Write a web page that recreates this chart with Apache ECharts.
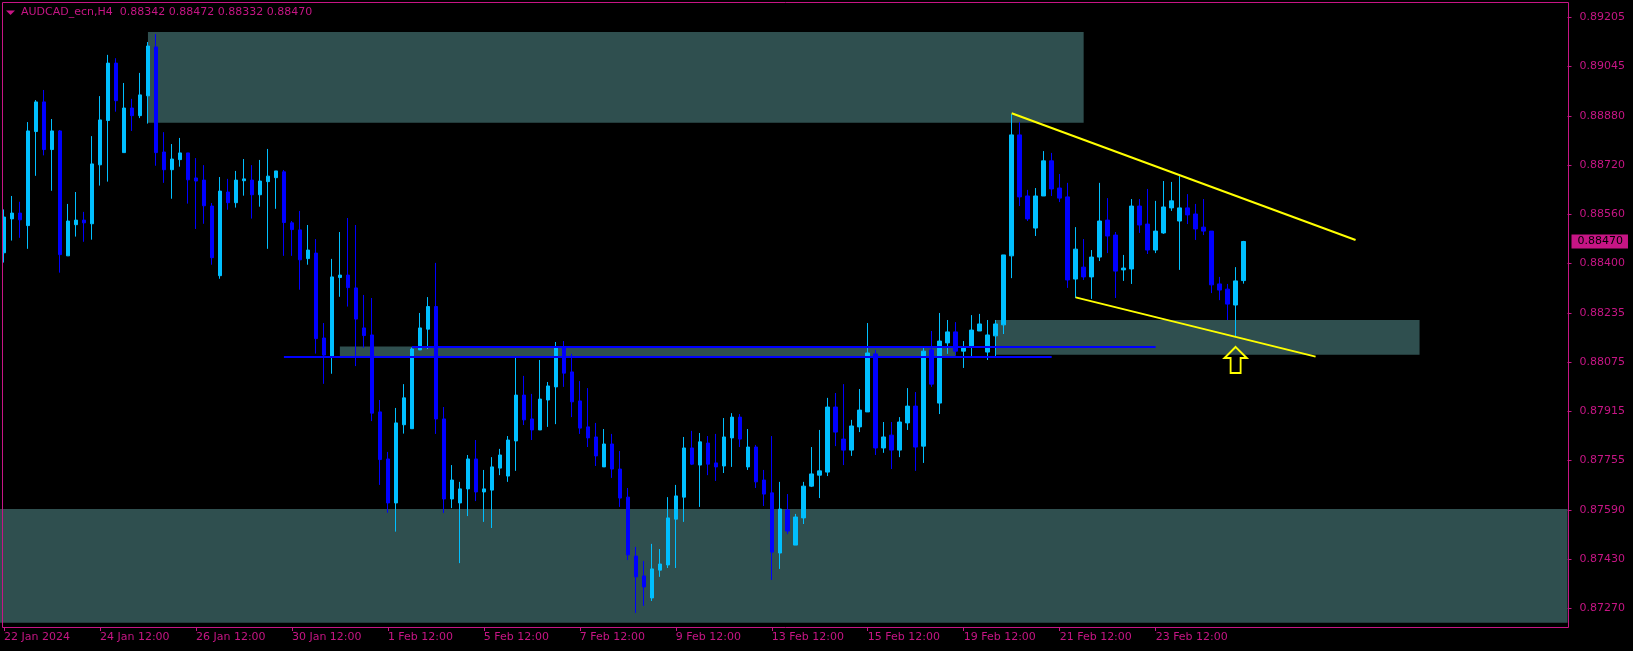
<!DOCTYPE html>
<html><head><meta charset="utf-8">
<script src="https://cdn.jsdelivr.net/npm/echarts@6/dist/echarts.min.js"></script>
<style>html,body{margin:0;padding:0;background:#000;}#c{width:1633px;height:651px;}</style>
</head><body><div id="c"></div>
<script>
const symbolName = 'AUDCAD_ecn,H4';
const tickLabels = ['22 Jan 2024','24 Jan 12:00','26 Jan 12:00','30 Jan 12:00','1 Feb 12:00','5 Feb 12:00','7 Feb 12:00','9 Feb 12:00','13 Feb 12:00','15 Feb 12:00','19 Feb 12:00','21 Feb 12:00','23 Feb 12:00'];
const priceTicks = [0.89205,0.89045,0.88880,0.88720,0.88560,0.88400,0.88235,0.88075,0.87915,0.87755,0.87590,0.87430,0.87270];

const opens = [0.88433,0.88544,0.88563,0.88522,0.88830,0.88927,0.88771,0.88832,0.88423,0.88525,
0.88540,0.88528,0.88721,0.88866,0.89054,0.88761,0.88907,0.88882,0.88947,0.89107,
0.88763,0.88705,0.88738,0.88760,0.88678,0.88671,0.88586,0.88358,0.88632,0.88597,
0.88669,0.88671,0.88623,0.88666,0.88679,0.88698,0.88531,0.88508,0.88414,0.88432,
0.88154,0.88095,0.88352,0.88360,0.88318,0.88187,0.88164,0.87912,0.87758,0.87614,
0.87870,0.87857,0.88115,0.88183,0.88257,0.87889,0.87627,0.87614,0.87660,0.87758,
0.87650,0.87656,0.87728,0.87702,0.87817,0.87967,0.87889,0.87853,0.87951,0.87994,
0.88122,0.88043,0.87948,0.87863,0.87830,0.87732,0.87807,0.87725,0.87633,0.87440,
0.87375,0.87303,0.87394,0.87411,0.87561,0.87633,0.87794,0.87738,0.87810,0.87745,
0.87735,0.87827,0.87895,0.87732,0.87797,0.87689,0.87647,0.87450,0.87591,0.87476,
0.87565,0.87669,0.87705,0.87715,0.87928,0.87823,0.87787,0.87863,0.87912,0.88102,
0.87794,0.87836,0.87787,0.87876,0.87931,0.87800,0.88115,0.87941,0.88138,0.88174,
0.88111,0.88128,0.88177,0.88108,0.88161,0.88197,0.88423,0.88819,0.88619,0.88514,
0.88619,0.88734,0.88645,0.88616,0.88347,0.88386,0.88354,0.88419,0.88540,0.88491,
0.88377,0.88380,0.88586,0.88527,0.88442,0.88498,0.88580,0.88537,0.88580,0.88560,
0.88517,0.88504,0.88331,0.88314,0.88262,0.88342];
const closes = [0.88550,0.88563,0.88541,0.88832,0.88927,0.88771,0.88832,0.88427,0.88537,0.88540,
0.88531,0.88724,0.88868,0.89054,0.88931,0.88907,0.88882,0.88950,0.89110,0.88761,
0.88705,0.88740,0.88760,0.88672,0.88668,0.88587,0.88417,0.88635,0.88597,0.88671,
0.88675,0.88623,0.88668,0.88684,0.88701,0.88532,0.88509,0.88410,0.88442,0.88152,
0.88098,0.88354,0.88360,0.88319,0.88216,0.88162,0.87908,0.87756,0.87614,0.87876,
0.87958,0.88118,0.88187,0.88257,0.87889,0.87627,0.87689,0.87660,0.87758,0.87650,
0.87660,0.87732,0.87771,0.87820,0.87967,0.87886,0.87853,0.87954,0.87997,0.88122,
0.88039,0.87945,0.87859,0.87827,0.87768,0.87807,0.87725,0.87630,0.87444,0.87372,
0.87339,0.87398,0.87414,0.87565,0.87637,0.87794,0.87741,0.87814,0.87741,0.87732,
0.87830,0.87895,0.87823,0.87797,0.87683,0.87643,0.87453,0.87594,0.87522,0.87568,
0.87669,0.87709,0.87719,0.87928,0.87846,0.87787,0.87866,0.87918,0.88105,0.87794,
0.87830,0.87787,0.87879,0.87931,0.87797,0.88111,0.88003,0.88144,0.88174,0.88111,
0.88121,0.88180,0.88200,0.88164,0.88200,0.88426,0.88819,0.88616,0.88544,0.88619,
0.88734,0.88642,0.88612,0.88344,0.88445,0.88354,0.88419,0.88537,0.88488,0.88373,
0.88383,0.88586,0.88524,0.88442,0.88504,0.88583,0.88603,0.88580,0.88557,0.88511,
0.88504,0.88328,0.88311,0.88265,0.88341,0.88470];
const lows = [0.88401,0.88473,0.88482,0.88446,0.88685,0.88752,0.88636,0.88368,0.88423,0.88486,
0.88469,0.88476,0.88653,0.88666,0.88895,0.88761,0.88832,0.88874,0.88856,0.88718,
0.88662,0.88610,0.88715,0.88594,0.88511,0.88528,0.88394,0.88348,0.88574,0.88581,
0.88620,0.88545,0.88584,0.88446,0.88577,0.88423,0.88423,0.88312,0.88394,0.88103,
0.88004,0.88037,0.88289,0.88257,0.88062,0.88122,0.87882,0.87673,0.87582,0.87520,
0.87841,0.87857,0.88115,0.88118,0.87840,0.87581,0.87597,0.87417,0.87571,0.87620,
0.87552,0.87532,0.87705,0.87683,0.87719,0.87869,0.87820,0.87853,0.87863,0.87872,
0.87994,0.87895,0.87840,0.87797,0.87735,0.87732,0.87696,0.87601,0.87427,0.87254,
0.87277,0.87293,0.87372,0.87401,0.87401,0.87552,0.87738,0.87601,0.87705,0.87686,
0.87712,0.87732,0.87797,0.87722,0.87663,0.87604,0.87362,0.87398,0.87512,0.87476,
0.87545,0.87666,0.87630,0.87702,0.87800,0.87738,0.87768,0.87846,0.87912,0.87771,
0.87778,0.87725,0.87764,0.87853,0.87719,0.87745,0.87994,0.87905,0.88102,0.88098,
0.88056,0.88092,0.88177,0.88082,0.88095,0.88167,0.88350,0.88586,0.88537,0.88488,
0.88619,0.88619,0.88599,0.88318,0.88285,0.88344,0.88282,0.88406,0.88432,0.88285,
0.88341,0.88331,0.88498,0.88429,0.88432,0.88495,0.88570,0.88377,0.88527,0.88475,
0.88491,0.88301,0.88278,0.88213,0.88157,0.88332];
const highs = [0.88575,0.88619,0.88600,0.88861,0.88933,0.88966,0.88871,0.88835,0.88593,0.88632,
0.88567,0.88815,0.88946,0.89081,0.89070,0.88989,0.88937,0.89022,0.89123,0.89149,
0.88828,0.88789,0.88809,0.88760,0.88743,0.88720,0.88596,0.88681,0.88675,0.88701,
0.88740,0.88720,0.88737,0.88773,0.88701,0.88704,0.88537,0.88570,0.88524,0.88478,
0.88203,0.88413,0.88501,0.88547,0.88524,0.88295,0.88285,0.87951,0.87781,0.87925,
0.88003,0.88123,0.88236,0.88288,0.88400,0.87928,0.87738,0.87683,0.87771,0.87820,
0.87722,0.87764,0.87791,0.87833,0.88089,0.88030,0.87971,0.88082,0.88010,0.88141,
0.88144,0.88102,0.88013,0.87990,0.87876,0.87856,0.87840,0.87784,0.87663,0.87470,
0.87424,0.87480,0.87463,0.87633,0.87673,0.87830,0.87850,0.87843,0.87833,0.87840,
0.87892,0.87908,0.87905,0.87856,0.87804,0.87722,0.87833,0.87683,0.87643,0.87578,
0.87683,0.87797,0.87853,0.87958,0.87974,0.88003,0.87886,0.87987,0.88203,0.88115,
0.87879,0.87879,0.87895,0.87990,0.87977,0.88121,0.88177,0.88236,0.88213,0.88206,
0.88144,0.88229,0.88233,0.88213,0.88213,0.88426,0.88887,0.88861,0.88639,0.88645,
0.88766,0.88760,0.88691,0.88662,0.88517,0.88478,0.88442,0.88662,0.88612,0.88501,
0.88426,0.88609,0.88609,0.88642,0.88603,0.88668,0.88665,0.88684,0.88625,0.88593,
0.88609,0.88504,0.88354,0.88331,0.88386,0.88472];

// zones: [startBar, endBar, lowPrice, highPrice]; null bars = full width
const supplyZone = [18, 135, 0.88859, 0.89156];
const retestZone = [124, 177, 0.88099, 0.88213];
const levelZone = [42, 119, 0.88093, 0.88126];
const demandZone = [null, null, 0.87222, 0.87594];
// horizontal levels: [startBar, endBar, price]
const levelLines = [[35, 131, 0.88093], [51, 144, 0.88126]];
// channel lines: [bar1, price1, bar2, price2]
const channelLines = [[126, 0.88890, 169, 0.88475], [134, 0.88287, 164, 0.88093]];
const arrowSignal = [154, 0.88082];

const totalSlots = 196;
const yMin = 0.8720782, yMax = 0.8925411;
const PINK = '#C71585';
const FONT = 'DejaVu Sans';

const categories = Array.from({length: totalSlots}, (_, i) => 'b' + i);
const candles = opens.map((o, i) => [o, closes[i], lows[i], highs[i]]);
const last = candles.length - 1;
const f5 = v => v.toFixed(5);
const titleText = symbolName + '  ' + f5(opens[last]) + ' ' + f5(highs[last]) + ' ' + f5(lows[last]) + ' ' + f5(closes[last]);
const showTick = i => i % 12 === 0 && i / 12 < tickLabels.length;

function zoneArea(z) {
  const a = {yAxis: z[3]}, b = {yAxis: z[2]};
  if (z[0] != null) { a.xAxis = z[0]; b.xAxis = z[1]; }
  return [a, b];
}

const lineData = [];
levelLines.forEach(l => lineData.push([
  {coord: [l[0], l[2]], lineStyle: {color: '#0000FF', width: 2, type: 'solid'}},
  {coord: [l[1], l[2]]}
]));
channelLines.forEach(l => lineData.push([
  {coord: [l[0], l[1]], lineStyle: {color: '#FFFF00', width: 2, type: 'solid'}},
  {coord: [l[2], l[3]]}
]));

const chart = echarts.init(document.getElementById('c'), null, {renderer: 'canvas'});
chart.setOption({
  backgroundColor: '#000000',
  animation: false,
  grid: {left: -0.5, right: 65.5, top: 2, bottom: 24},
  xAxis: {
    type: 'category', data: categories, boundaryGap: true,
    axisLine: {show: false},
    axisTick: {show: true, alignWithLabel: true, interval: showTick, length: 4, lineStyle: {color: PINK}},
    axisLabel: {interval: showTick, formatter: (v, i) => tickLabels[i / 12] || '', align: 'left',
      color: PINK, fontFamily: FONT, fontSize: 11, margin: 5},
    splitLine: {show: false}
  },
  yAxis: [{
    type: 'value', position: 'right', min: yMin, max: yMax,
    axisLine: {show: false},
    axisTick: {show: true, customValues: priceTicks, length: 4, lineStyle: {color: PINK}},
    axisLabel: {customValues: priceTicks, formatter: v => f5(v), color: PINK, fontFamily: FONT, fontSize: 11, margin: 12},
    splitLine: {show: false}
  }, {
    type: 'value', position: 'right', min: yMin, max: yMax,
    axisLine: {show: false},
    axisTick: {show: false},
    axisLabel: {customValues: [closes[last]], formatter: v => f5(v), color: '#000000', backgroundColor: PINK,
      padding: [1, 5, 1, 6], lineHeight: 12, fontFamily: FONT, fontSize: 11, margin: 4},
    splitLine: {show: false}
  }],
  graphic: [
    {type: 'rect', shape: {x: 2.5, y: 2.5, width: 1566, height: 625}, style: {fill: null, stroke: PINK, lineWidth: 1}, z: 100, silent: true},
    {type: 'polygon', shape: {points: [[6, 10.5], [15, 10.5], [10.5, 15]]}, style: {fill: PINK}, z: 100},
    {type: 'text', x: 21, y: 12.5, style: {text: titleText, fill: PINK, font: '11px "DejaVu Sans"', verticalAlign: 'middle'}, z: 100}
  ],
  series: [{
    type: 'candlestick',
    yAxisIndex: 0,
    data: candles,
    barWidth: 4,
    itemStyle: {color: '#00BFFF', color0: '#0000FF', borderColor: '#00BFFF', borderColor0: '#0000FF', borderWidth: 1},
    markArea: {
      silent: true,
      itemStyle: {color: '#2F4F4F', opacity: 1},
      label: {show: false},
      data: [zoneArea(demandZone), zoneArea(supplyZone), zoneArea(retestZone), zoneArea(levelZone)]
    },
    markLine: {
      silent: true, symbol: ['none', 'none'], label: {show: false},
      data: lineData
    },
    markPoint: {
      silent: true,
      symbol: 'path://M11 0 L22 11 L16 11 L16 26 L6 26 L6 11 L0 11 Z',
      symbolSize: [22, 26],
      itemStyle: {color: 'rgba(0,0,0,0)', borderColor: '#FFFF00', borderWidth: 2},
      label: {show: false},
      data: [{coord: arrowSignal}]
    }
  }]
});
</script></body></html>
